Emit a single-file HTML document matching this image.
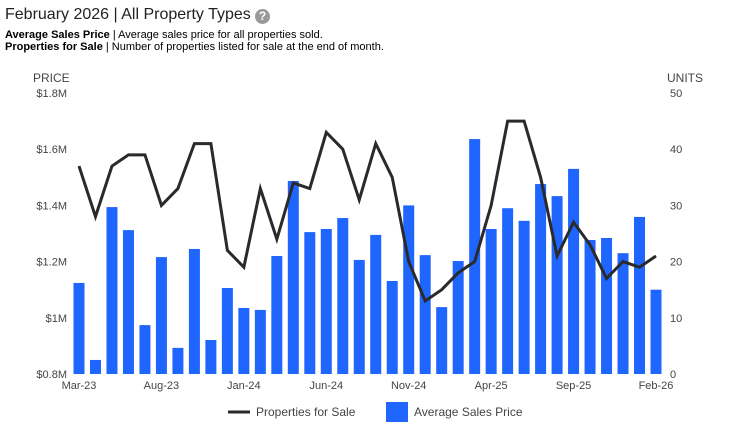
<!DOCTYPE html>
<html><head><meta charset="utf-8"><style>
body{margin:0;background:#fff;font-family:"Liberation Sans",Arial,sans-serif;}
#w{position:relative;width:730px;height:432px;overflow:hidden}
.t{position:absolute;white-space:nowrap}
</style></head><body><div id="w">
<div class="t" style="left:5px;top:6px;font-size:16px;color:#222">February 2026 | All Property Types</div>
<div style="position:absolute;left:255px;top:9px;width:15px;height:15px;border-radius:50%;background:#999;color:#fff;font-size:12px;font-weight:bold;text-align:center;line-height:15px">?</div>
<div class="t" style="left:5px;top:29px;font-size:11px;color:#000"><b>Average Sales Price</b> | Average sales price for all properties sold.</div>
<div class="t" style="left:5px;top:41px;font-size:11px;color:#000"><b>Properties for Sale</b> | Number of properties listed for sale at the end of month.</div>
<svg id="c" width="730" height="432" style="position:absolute;left:0;top:0"></svg>
</div>
<script>
const months=["Mar-23","Apr-23","May-23","Jun-23","Jul-23","Aug-23","Sep-23","Oct-23","Nov-23","Dec-23","Jan-24","Feb-24","Mar-24","Apr-24","May-24","Jun-24","Jul-24","Aug-24","Sep-24","Oct-24","Nov-24","Dec-24","Jan-25","Feb-25","Mar-25","Apr-25","May-25","Jun-25","Jul-25","Aug-25","Sep-25","Oct-25","Nov-25","Dec-25","Jan-26","Feb-26"];
const prices=[1.124,0.85,1.394,1.312,0.974,1.216,0.893,1.245,0.921,1.106,1.035,1.028,1.22,1.487,1.305,1.316,1.355,1.206,1.295,1.131,1.4,1.223,1.038,1.202,1.636,1.316,1.39,1.345,1.476,1.433,1.53,1.277,1.284,1.23,1.359,1.1];
const units=[37,28,37,39,39,30,33,41,41,22,19,33,24,34,33,43,40,31,41,35,20,13,15,18,20,30,45,45,35,21,27,23,17,20,19,21];
const priceTicks=[0.8,1.0,1.2,1.4,1.6,1.8];
const priceLabels=["$0.8M","$1M","$1.2M","$1.4M","$1.6M","$1.8M"];
const unitTicks=[0,10,20,30,40,50];
const NS="http://www.w3.org/2000/svg",svg=document.getElementById('c');
const X0=79,X1=656,Y0=374,Y1=93;
const x=i=>X0+(X1-X0)*i/(months.length-1);
const yP=v=>Y0-(v-0.8)/(1.0)*(Y0-Y1);
const yU=v=>Y0-v/50*(Y0-Y1);
function mk(t,a,txt){const e=document.createElementNS(NS,t);for(const k in a)e.setAttribute(k,a[k]);if(txt!=null)e.textContent=txt;svg.appendChild(e);return e;}
let e=mk('text',{x:33,y:82,'font-size':12,fill:'#444'},'PRICE');


e=mk('text',{x:667,y:82,'font-size':12,fill:'#444'},'UNITS');


priceTicks.forEach((v,i)=>{const t=mk('text',{x:67,y:yP(v)+4,'font-size':11,fill:'#444','text-anchor':'end'},priceLabels[i]);

});
unitTicks.forEach(v=>{const t=mk('text',{x:670,y:yU(v)+4,'font-size':11,fill:'#444'},String(v));

});
prices.forEach((v,i)=>{const r=mk('rect',{x:x(i)-5.5,y:yP(v),width:11,height:Y0-yP(v),fill:'#1f66ff'});

});
months.forEach((m,i)=>{if(i%5===0){const t=mk('text',{x:x(i),y:389,'font-size':11,fill:'#444','text-anchor':'middle'},m);

}});
const ln=mk('polyline',{points:units.map((v,i)=>x(i)+','+yU(v)).join(' '),fill:'none',stroke:'#2a2a2a','stroke-width':3,'stroke-linejoin':'miter'});


e=mk('line',{x1:228,y1:412,x2:250,y2:412,stroke:'#2a2a2a','stroke-width':3});


e=mk('text',{x:256,y:416,'font-size':12,fill:'#444'},'Properties for Sale');


e=mk('rect',{x:386,y:402,width:22,height:20,fill:'#1f66ff'});


e=mk('text',{x:414,y:416,'font-size':12,fill:'#444'},'Average Sales Price');


</script></body></html>
